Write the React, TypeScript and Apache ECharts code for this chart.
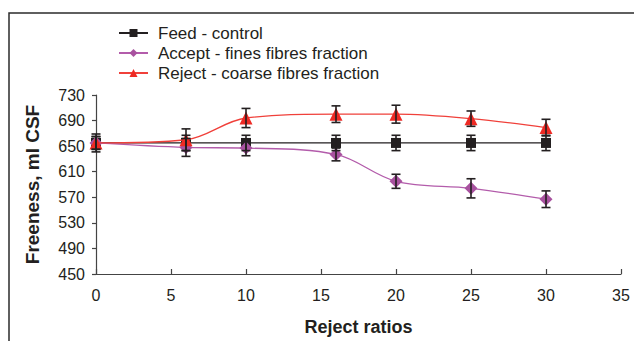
import React, { useEffect, useRef } from "react";
import * as echarts from "echarts";

const ratios = [0, 6, 10, 16, 20, 25, 30];
const feed = [655, 655, 655, 655, 655, 655, 655];
const feedErr = [14, 12, 12, 12, 12, 12, 12];
const accept = [655, 648, 647, 637, 595, 584, 567];
const acceptErr = [10, 14, 12, 10, 11, 15, 13];
const reject = [655, 660, 694, 700, 700, 693, 679];
const rejectErr = [10, 17, 15, 13, 14, 12, 13];
const seriesNames = ["Feed - control", "Accept - fines fibres fraction", "Reject - coarse fibres fraction"];
const xTicks = { min: 0, max: 35, interval: 5 };
const yTicks = { min: 450, max: 730, interval: 40 };

const FONT = "'Liberation Sans', Arial, Helvetica, sans-serif";
const INK = "#231f20";

function pairs(xs: number[], ys: number[]) {
  return xs.map((x, i) => [x, ys[i]]);
}
function errData(xs: number[], ys: number[], es: number[]) {
  return xs.map((x, i) => [x, ys[i] - es[i], ys[i] + es[i]]);
}

export default function App() {
  const ref = useRef<HTMLDivElement>(null);
  useEffect(() => {
    if (!ref.current) return;
    const chart = echarts.init(ref.current, undefined, { renderer: "svg" });
    const errorSeries = (name: string, data: number[][]) => ({
      type: "custom",
      name: name + "-err",
      z: 10,
      silent: true,
      data,
      encode: { x: 0, y: [1, 2] },
      renderItem: (params: any, api: any) => {
        const x = api.value(0);
        const lo = api.coord([x, api.value(1)]);
        const hi = api.coord([x, api.value(2)]);
        const w = 4.5;
        const st = { stroke: INK, lineWidth: 1.6 };
        return {
          type: "group",
          children: [
            { type: "line", shape: { x1: lo[0], y1: lo[1], x2: hi[0], y2: hi[1] }, style: st },
            { type: "line", shape: { x1: lo[0] - w, y1: lo[1], x2: lo[0] + w, y2: lo[1] }, style: st },
            { type: "line", shape: { x1: hi[0] - w, y1: hi[1], x2: hi[0] + w, y2: hi[1] }, style: st },
          ],
        };
      },
    });
    chart.setOption({
      animation: false,
      backgroundColor: "#ffffff",
      grid: { left: 96, right: 13, top: 95, bottom: 61, containLabel: false },
      legend: {
        orient: "vertical",
        left: 118,
        top: 23,
        padding: 0,
        itemWidth: 29,
        itemHeight: 10,
        itemGap: 0,
        data: seriesNames,
        textStyle: { fontFamily: FONT, fontSize: 17, color: INK, lineHeight: 20, height: 20, padding: [0, 0, 0, 5] },
      },
      xAxis: {
        type: "value",
        min: xTicks.min,
        max: xTicks.max,
        interval: xTicks.interval,
        name: "Reject ratios",
        nameLocation: "middle",
        nameGap: 44,
        nameTextStyle: { fontFamily: FONT, fontSize: 18, fontWeight: "bold", color: INK },
        axisLine: { lineStyle: { color: "#444", width: 1.2 } },
        axisTick: { inside: true, length: 5, lineStyle: { color: "#444", width: 1.2 } },
        axisLabel: { fontFamily: FONT, fontSize: 16, color: INK, margin: 13 },
        splitLine: { show: false },
      },
      yAxis: {
        type: "value",
        min: yTicks.min,
        max: yTicks.max,
        interval: yTicks.interval,
        name: "Freeness, ml CSF",
        nameLocation: "middle",
        nameGap: 54,
        nameRotate: 90,
        nameTextStyle: { fontFamily: FONT, fontSize: 19, fontWeight: "bold", color: INK },
        axisLine: { show: true, lineStyle: { color: "#444", width: 1.2 } },
        axisTick: { show: true, inside: false, length: 4, lineStyle: { color: "#444", width: 1.2 } },
        axisLabel: { fontFamily: FONT, fontSize: 16, color: INK, margin: 11 },
        splitLine: { show: false },
      },
      series: [
        {
          type: "line",
          name: seriesNames[0],
          data: pairs(ratios, feed),
          symbol: "rect",
          symbolSize: 10,
          lineStyle: { color: INK, width: 1.3 },
          itemStyle: { color: INK },
          z: 3,
        },
        {
          type: "line",
          name: seriesNames[1],
          data: pairs(ratios, accept),
          smooth: 0.35,
          symbol: "diamond",
          symbolSize: 13,
          lineStyle: { color: "#b35cab", width: 1.3 },
          itemStyle: { color: "#a8529f" },
          z: 4,
        },
        {
          type: "line",
          name: seriesNames[2],
          data: pairs(ratios, reject),
          smooth: 0.35,
          symbol: "triangle",
          symbolSize: 13,
          lineStyle: { color: "#f0403a", width: 1.3 },
          itemStyle: { color: "#ee2a24" },
          z: 5,
        },
        errorSeries("feed", errData(ratios, feed, feedErr)),
        errorSeries("accept", errData(ratios, accept, acceptErr)),
        errorSeries("reject", errData(ratios, reject, rejectErr)),
      ],
      graphic: [
        {
          type: "rect",
          silent: true,
          z: -1,
          shape: { x: 9, y: 13, width: 700, height: 400 },
          style: { fill: "none", stroke: "#2b2b2b", lineWidth: 1.5 },
        },
      ],
    });
    return () => chart.dispose();
  }, []);
  return (
    <div
      ref={ref}
      style={{ position: "fixed", left: 0, top: 0, width: 634, height: 341, background: "#fff" }}
    />
  );
}
